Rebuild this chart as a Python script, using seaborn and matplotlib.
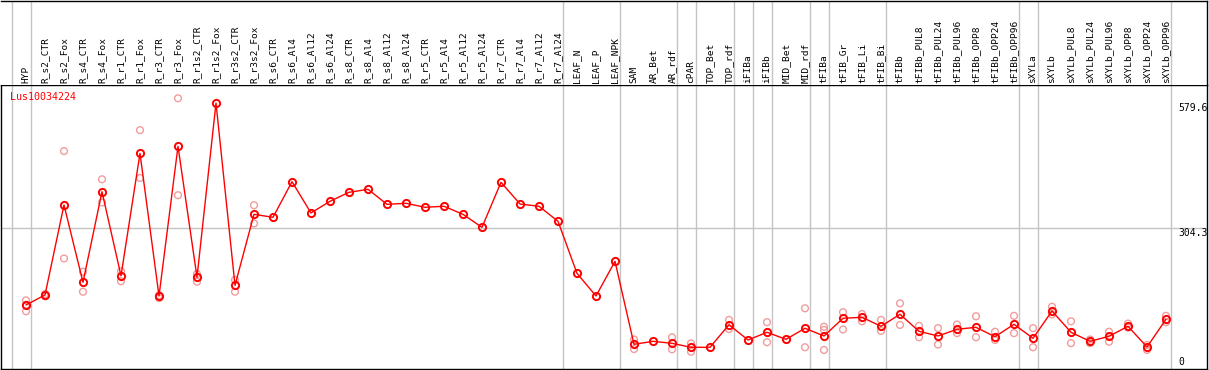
import numpy as np
import pandas as pd
import matplotlib
matplotlib.use("Agg")
import matplotlib.pyplot as plt
import matplotlib.transforms as mtrans
import seaborn as sns

nan = np.nan

categories = [
    "HYP", "R_s2_CTR", "R_s2_Fox", "R_s4_CTR", "R_s4_Fox", "R_r1_CTR", "R_r1_Fox",
    "R_r3_CTR", "R_r3_Fox", "R_r1s2_CTR", "R_r1s2_Fox", "R_r3s2_CTR", "R_r3s2_Fox",
    "R_s6_CTR", "R_s6_Al4", "R_s6_Al12", "R_s6_Al24", "R_s8_CTR", "R_s8_Al4",
    "R_s8_Al12", "R_s8_Al24", "R_r5_CTR", "R_r5_Al4", "R_r5_Al12", "R_r5_Al24",
    "R_r7_CTR", "R_r7_Al4", "R_r7_Al12", "R_r7_Al24", "LEAF_N", "LEAF_P", "LEAF_NPK",
    "SAM", "AR_Bet", "AR_rdf", "cPAR", "TOP_Bet", "TOP_rdf", "iFIBa", "iFIBb",
    "MID_Bet", "MID_rdf", "tFIBa", "tFIB_Gr", "tFIB_Li", "tFIB_Bi", "tFIBb",
    "tFIBb_PUL8", "tFIBb_PUL24", "tFIBb_PUL96", "tFIBb_OPP8", "tFIBb_OPP24",
    "tFIBb_OPP96", "sXYLa", "sXYLb", "sXYLb_PUL8", "sXYLb_PUL24", "sXYLb_PUL96",
    "sXYLb_OPP8", "sXYLb_OPP24", "sXYLb_OPP96",
]

means = [
    135.8, 157.8, 355.5, 185.7, 384.8, 200.0, 469.0, 155.6, 484.5, 196.7, 579.6,
    179.0, 335.0, 328.5, 406.7, 338.0, 363.7, 383.4, 390.0, 357.0, 359.3, 350.5,
    352.7, 335.0, 306.5, 405.4, 357.7, 352.7, 319.7, 205.4, 155.6, 231.8,
    49.4, 56.0, 51.6, 42.8, 42.8, 92.5, 58.9, 75.8, 60.4, 84.6, 67.7, 106.6,
    108.8, 89.0, 115.4, 78.0, 67.7, 82.4, 86.8, 66.1, 93.4, 62.6, 122.6, 75.8,
    56.0, 67.0, 89.0, 43.5, 104.4,
]

rep_a = [
    146, 160, 474, 209, 412, 210, 520, 157, 590, 204, nan, 191, 355,
    nan, nan, nan, nan, nan, nan, nan, nan, nan, nan, nan, nan, nan, nan, nan, nan,
    nan, nan, nan,
    60, nan, 65, 51.6, nan, 103, nan, 98, nan, 128.5, 88, 120, 116, 103, 139.5,
    90, 85, 93, 111, 77, 112, 85, 132, 100, 60, 77, 95, 48, 112,
]
rep_b = [
    122, 155, 238, 165, 361, 188, 415, 151, 377, 187, nan, 165, 315,
    nan, nan, nan, nan, nan, nan, nan, nan, nan, nan, nan, nan, nan, nan, nan, nan,
    nan, nan, nan,
    39, nan, 38.5, 33, nan, 83, nan, 54, nan, 43, 37, 82, 100, 79, 92,
    65, 49, 74, 65, 59, 74, 43, 115, 52, 52, 55, 86, 37, 98,
]
rep_c = [136] + [nan] * 41 + [81] + [nan] * 18

# separators drawn after these category indices
group_ends = [-1, 0, 28, 31, 34, 35, 37, 38, 39, 41, 42, 45, 52, 53, 60]

gene = "Lus10034224"
y_ticks = [579.6, 304.3, 0]
y_tick_labels = ["579.6", "304.3", "0"]

# ---------------------------------------------------------------------------
sns.set_theme(style="white")
plt.rcParams["font.family"] = ["DejaVu Sans Mono", "DejaVu Sans"]

W, H = 1209, 370
fig = plt.figure(figsize=(W / 100, H / 100), dpi=100)

ax = fig.add_axes([1 / W, 1 / H, 1206 / W, 284 / H])
hx = fig.add_axes([1 / W, 285 / H, 1206 / W, 84.5 / H], sharex=ax)

pos = np.arange(len(categories))
df_mean = pd.DataFrame({"pos": pos, "val": means})
reps = pd.DataFrame({
    "pos": np.concatenate([pos, pos, pos]),
    "val": np.concatenate([rep_a, rep_b, rep_c]),
}).dropna()

rep_col = "#f19c9c"
sns.scatterplot(data=reps, x="pos", y="val", ax=ax, marker="o", s=24,
                facecolors="none", edgecolor=rep_col, linewidth=1.0,
                zorder=3, legend=False)
sns.lineplot(data=df_mean, x="pos", y="val", ax=ax, color="red", lw=1.0,
             marker="o", markersize=5.2, markerfacecolor="none",
             markeredgecolor="red", markeredgewidth=1.4, zorder=4,
             legend=False)

xmin = (1 - 26) / 19
xmax = (1207 - 26) / 19
ax.set_xlim(xmin, xmax)
ax.set_ylim(-4.83, 619.2)

sep_off = 0.24
for g in group_ends:
    ax.axvline(g + sep_off, color="#c4c4c4", lw=1.0, zorder=1)
    hx.axvline(g + sep_off, color="#c4c4c4", lw=1.0, zorder=1)
ax.axhline(y_ticks[1], color="#c4c4c4", lw=1.0, zorder=1)

tick_tr = mtrans.blended_transform_factory(fig.transFigure, ax.transData)
for v, t in zip(y_ticks, y_tick_labels):
    ax.text(1178 / W, v, t, transform=tick_tr, fontsize=7, color="black",
            va="bottom" if v == 0 else "top", ha="left", zorder=5)

fig.text(10 / W, (H - 97) / H, gene, fontsize=7.2, color="red",
         va="center", ha="left")

ax.set_xlabel("")
ax.set_ylabel("")
ax.set_xticks([])
ax.set_yticks([])
for s in ax.spines.values():
    s.set_color("black")
    s.set_linewidth(1.0)
    s.set_visible(True)

hx.set_ylim(85, 0)
for i, c in enumerate(categories):
    hx.text(i, 82.5, c, rotation=90, ha="center", va="bottom", fontsize=6.8,
            color="black")
hx.set_xticks([])
hx.set_yticks([])
hx.set_xlabel("")
hx.set_facecolor("white")
for k, s in hx.spines.items():
    s.set_color("black")
    s.set_linewidth(1.0)
hx.spines["left"].set_visible(False)
hx.spines["bottom"].set_visible(False)

fig.savefig("out.png", dpi=100, facecolor="white")
